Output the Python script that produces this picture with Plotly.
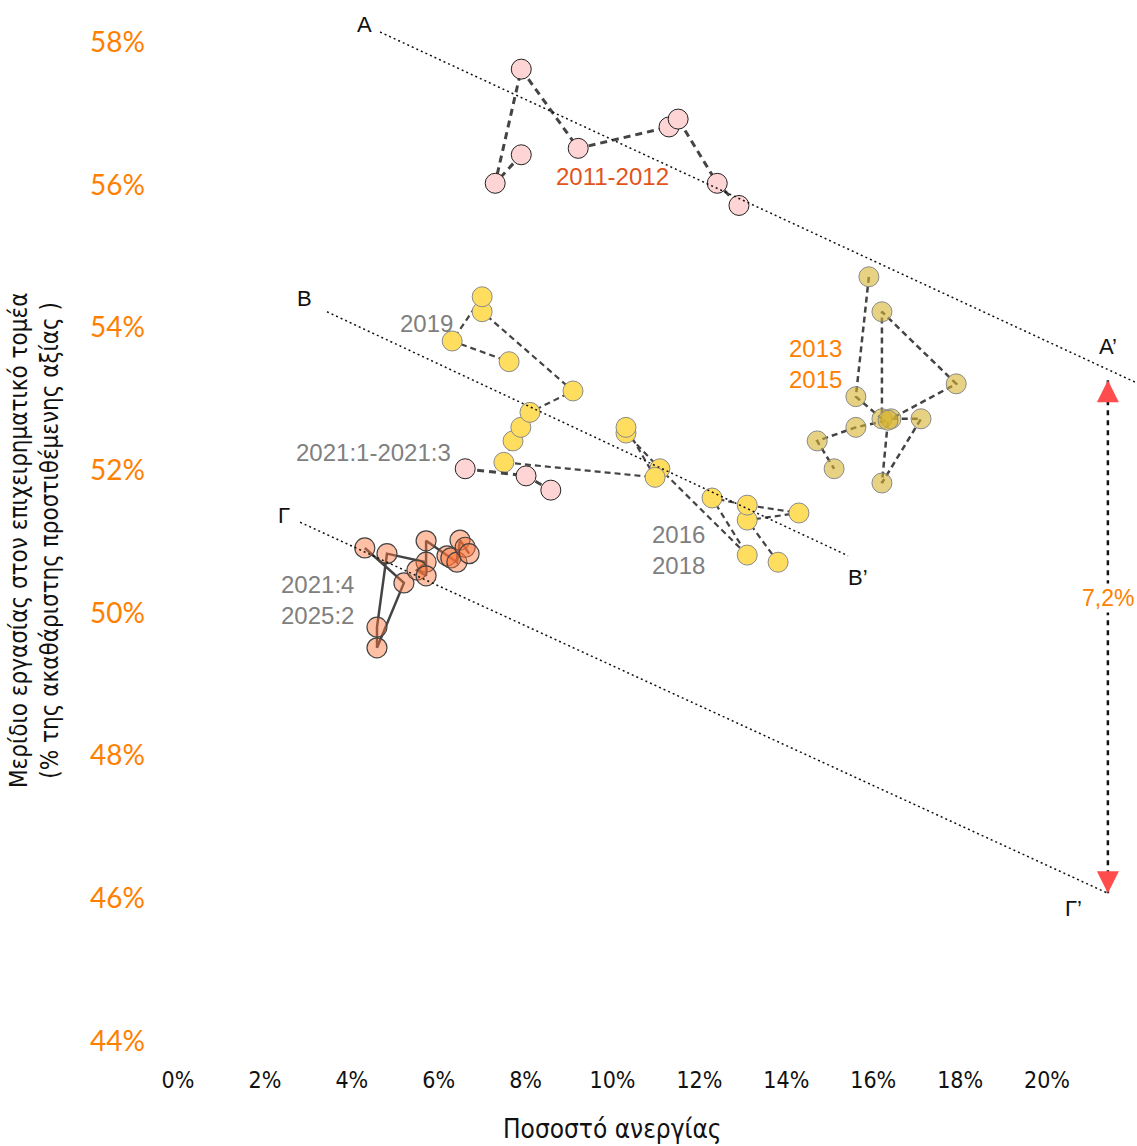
import plotly.graph_objects as go

# ---------------- data (unemployment %, labour share %) ----------------
pink_top_x = [7.90, 7.30, 7.90, 9.21, 11.30, 11.51, 12.41, 12.91]
pink_top_y = [56.42, 56.02, 57.62, 56.51, 56.81, 56.92, 56.02, 55.71]

pink_mid_x = [6.61, 8.01, 8.58]
pink_mid_y = [52.02, 51.92, 51.72]

yellow_x = [13.81, 13.10, 14.29, 13.10, 12.29, 13.10, 11.09, 10.31, 10.31, 10.98,
            7.50, 7.71, 7.89, 8.10, 9.09, 7.00, 7.00, 6.31, 7.62]
yellow_y = [50.71, 51.30, 51.40, 51.51, 51.61, 50.81, 52.02, 52.52, 52.60, 51.90,
            52.11, 52.41, 52.60, 52.81, 53.11, 54.22, 54.43, 53.81, 53.52]

tan_x = [15.90, 15.60, 16.20, 16.20, 17.91, 16.41, 17.10, 16.20, 16.34, 15.60, 14.71, 15.10]
tan_y = [54.71, 53.03, 52.72, 54.22, 53.21, 52.72, 52.72, 51.82, 52.70, 52.60, 52.41, 52.02]

salmon_x = [4.30, 5.20, 4.58, 4.58, 4.81, 5.71, 5.50, 5.71, 5.71, 6.19, 6.28, 6.42, 6.49, 6.61, 6.70]
salmon_y = [50.91, 50.42, 49.51, 49.80, 50.83, 50.71, 50.60, 50.52, 51.01, 50.80, 50.77, 50.71, 51.02, 50.92, 50.83]

trend_A_x = [4.65, 22.50]
trend_A_y = [58.14, 53.10]
trend_B_x = [3.43, 15.42]
trend_B_y = [54.22, 50.80]
trend_G_x = [2.81, 21.40]
trend_G_y = [51.27, 46.07]

gap_x = [21.40, 21.40]
gap_y = [53.26, 46.07]
gap_label = "7,2%"

x_ticks = [0, 2, 4, 6, 8, 10, 12, 14, 16, 18, 20]
x_ticklabels = [f"{v}%" for v in x_ticks]
y_ticks = [44, 46, 48, 50, 52, 54, 56, 58]
y_ticklabels = [f"{v}%" for v in y_ticks]

ORANGE = "#FF8000"
GRAY = "#808080"
NARROW = "Liberation Sans Narrow, DejaVu Sans Condensed, sans-serif"
SANS = "Liberation Sans, Arial, sans-serif"

fig = go.Figure()

# connected series
fig.add_trace(go.Scatter(x=pink_top_x, y=pink_top_y, mode="lines+markers",
    line=dict(color="#444444", width=3, dash="7px,5px"),
    marker=dict(size=20, color="#FFD4D4", line=dict(color="#222222", width=1))))
fig.add_trace(go.Scatter(x=yellow_x, y=yellow_y, mode="lines+markers",
    line=dict(color="#444444", width=2.2, dash="6px,4px"),
    marker=dict(size=20, color="#FFDD5E", line=dict(color="#8a8a8a", width=1))))
fig.add_trace(go.Scatter(x=pink_mid_x, y=pink_mid_y, mode="lines+markers",
    line=dict(color="#444444", width=3, dash="7px,5px"),
    marker=dict(size=20, color="#FFD4D4", line=dict(color="#222222", width=1))))
fig.add_trace(go.Scatter(x=tan_x, y=tan_y, mode="lines+markers",
    line=dict(color="#444444", width=2.5, dash="6px,4px"),
    marker=dict(size=20, color="rgba(215,180,50,0.6)", line=dict(color="#8a8a8a", width=1))))
fig.add_trace(go.Scatter(x=salmon_x, y=salmon_y, mode="lines+markers",
    line=dict(color="#444444", width=2.5),
    marker=dict(size=20, color="rgba(255,115,55,0.45)", line=dict(color="#444444", width=1.2))))

# trend lines (on top)
for tx, ty in [(trend_A_x, trend_A_y), (trend_B_x, trend_B_y), (trend_G_x, trend_G_y)]:
    fig.add_trace(go.Scatter(x=tx, y=ty, mode="lines",
        line=dict(color="#111111", width=1.5, dash="2px,3px")))

# gap arrow
fig.add_trace(go.Scatter(x=gap_x, y=gap_y, mode="lines",
    line=dict(color="#111111", width=2.5, dash="5px,5px")))
fig.add_trace(go.Scatter(x=[gap_x[0]], y=[gap_y[0]], mode="markers",
    marker=dict(symbol="arrow-up", size=22, color="#FF4D4D", line=dict(width=0))))
fig.add_trace(go.Scatter(x=[gap_x[1]], y=[gap_y[1]], mode="markers",
    marker=dict(symbol="arrow-down", size=22, color="#FF4D4D", line=dict(width=0))))

ann = []
def label(x, y, text, color, size=24, font=SANS, bg=None):
    d = dict(x=x, y=y, xref="x", yref="y", text=text, showarrow=False,
             font=dict(family=font, size=size, color=color), xanchor="center", yanchor="middle")
    if bg:
        d["bgcolor"] = bg
    ann.append(d)

label(9.99, 56.11, "2011-2012", "#E2541B")
label(5.71, 54.06, "2019", GRAY)
label(4.51, 52.25, "2021:1-2021:3", GRAY)
label(11.51, 50.88, "2016<br>2018", GRAY)
label(14.66, 53.49, "2013<br>2015", ORANGE)
label(3.20, 50.18, "2021:4<br>2025:2", GRAY)
label(4.30, 58.24, "A", "#111111", 22)
label(2.92, 54.41, "B", "#111111", 22)
label(2.44, 51.37, "Γ", "#111111", 22)
label(21.40, 53.74, "A’", "#111111", 22)
label(15.65, 50.50, "B’", "#111111", 22)
label(20.60, 45.86, "Γ’", "#111111", 22)
label(21.40, 50.21, gap_label, ORANGE, 23, SANS, bg="white")

# axis titles
ann.append(dict(xref="paper", yref="paper", x=-0.117, y=0.49, textangle=-90,
    text="Μερίδιο εργασίας στον επιχειρηματικό τομέα<br>(% της ακαθάριστης προστιθέμενης αξίας )",
    showarrow=False, xanchor="center", yanchor="middle",
    font=dict(family=NARROW, size=24, color="#111111")))
ann.append(dict(xref="paper", yref="paper", x=(612 - 150) / 987, y=-0.065,
    text="Ποσοστό ανεργίας", showarrow=False, xanchor="center", yanchor="middle",
    font=dict(family=NARROW, size=26, color="#111111")))

fig.update_layout(
    width=1137, height=1146,
    margin=dict(l=150, r=0, t=0, b=86),
    plot_bgcolor="white", paper_bgcolor="white",
    showlegend=False,
    annotations=ann,
    xaxis=dict(range=[-0.644, 22.07], tickvals=x_ticks, ticktext=x_ticklabels,
               showgrid=False, zeroline=False, showline=False, ticks="",
               tickfont=dict(family=NARROW, size=23, color="#111111"),
               ticklabelstandoff=4),
    yaxis=dict(range=[43.734, 58.589], tickvals=y_ticks, ticktext=y_ticklabels,
               showgrid=False, zeroline=False, showline=False, ticks="",
               tickfont=dict(family="Lato, sans-serif", size=28, color=ORANGE),
               ticklabelstandoff=4),
)

fig.write_html("out.html", config={"displayModeBar": False},
               post_script="document.body.style.margin='0';document.body.style.overflow='hidden';")
